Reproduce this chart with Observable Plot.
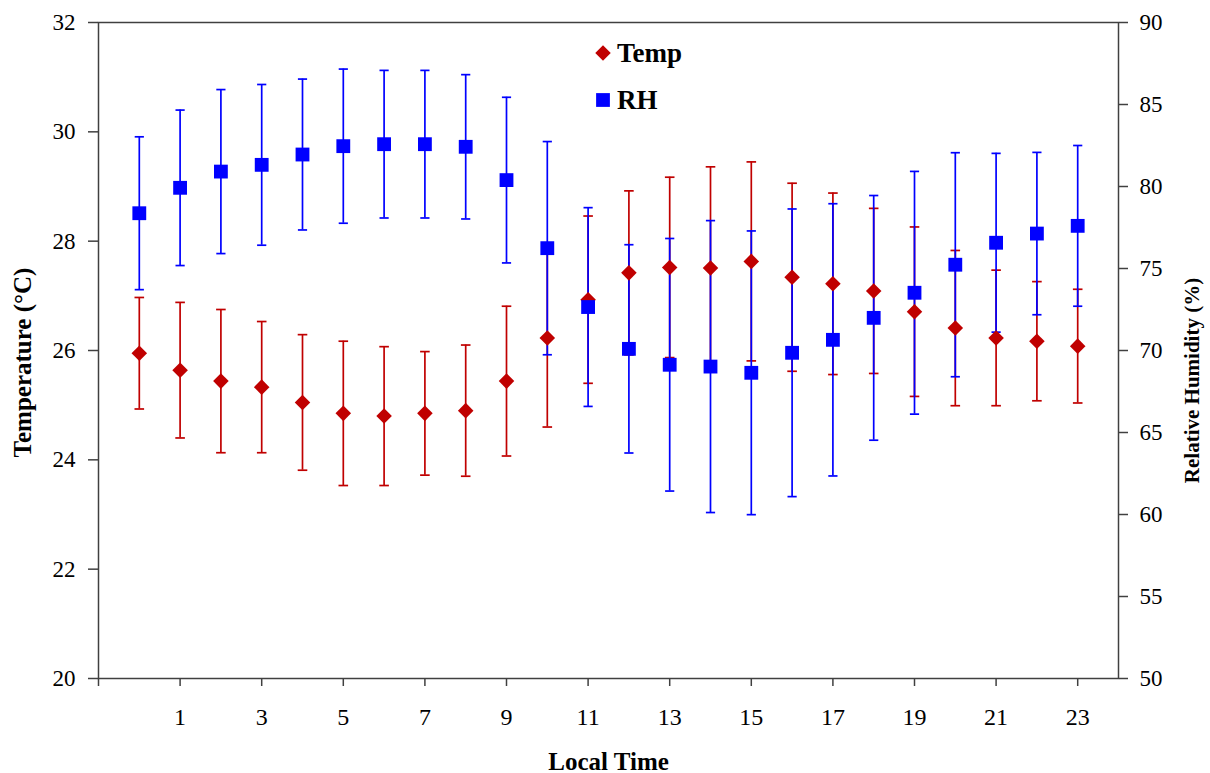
<!DOCTYPE html>
<html>
<head>
<meta charset="utf-8">
<script src="https://cdn.jsdelivr.net/npm/d3@7"></script>
<script src="https://cdn.jsdelivr.net/npm/@observablehq/plot@0.6"></script>
<style>
  html, body { margin: 0; padding: 0; background: #fff; }
  #wrap { position: relative; width: 1210px; height: 773px; }
  #legend { position: absolute; left: 0; top: 0; pointer-events: none; }
</style>
</head>
<body>
<div id="wrap"></div>
<script>
// ---- data ----
const hours = [0,1,2,3,4,5,6,7,8,9,10,11,12,13,14,15,16,17,18,19,20,21,22,23];
const tempMean = [25.95,25.64,25.44,25.33,25.05,24.85,24.80,24.85,24.90,25.44,26.23,26.93,27.42,27.52,27.51,27.63,27.34,27.22,27.09,26.71,26.41,26.23,26.17,26.08];
const tempSD   = [1.02,1.24,1.31,1.20,1.24,1.32,1.27,1.13,1.20,1.37,1.63,1.53,1.50,1.65,1.85,1.82,1.72,1.66,1.51,1.55,1.42,1.24,1.09,1.04];
const rhMean   = [78.37,79.92,80.91,81.32,81.95,82.46,82.58,82.58,82.42,80.39,76.24,72.65,70.10,69.13,69.02,68.64,69.86,70.65,71.99,73.52,75.23,76.57,77.13,77.60];
const rhSD     = [4.66,4.74,5.00,4.90,4.60,4.70,4.50,4.50,4.40,5.05,6.50,6.06,6.35,7.70,8.90,8.65,8.77,8.30,7.46,7.40,6.83,5.45,4.95,4.90];
const xTicks = [-1,1,3,5,7,9,11,13,15,17,19,21,23];
const tempTicks = [20,22,24,26,28,30,32];
const rhTicks = [50,55,60,65,70,75,80,85,90];
const seriesNames = ["Temp", "RH"];
const tempDomain = [20, 32];
const rhDomain = [50, 90];

// map RH onto the temperature scale (secondary axis)
const toT = rh => tempDomain[0] + (rh - rhDomain[0]) * (tempDomain[1] - tempDomain[0]) / (rhDomain[1] - rhDomain[0]);
const fromT = t => rhDomain[0] + (t - tempDomain[0]) * (rhDomain[1] - rhDomain[0]) / (tempDomain[1] - tempDomain[0]);

const rows = hours.map((h, i) => ({
  hour: h,
  t: tempMean[i], tLo: tempMean[i] - tempSD[i], tHi: tempMean[i] + tempSD[i],
  r: toT(rhMean[i]), rLo: toT(rhMean[i] - rhSD[i]), rHi: toT(rhMean[i] + rhSD[i])
}));

const RED = "#C00000", BLUE = "#0000FF", AXIS = "#404040";
const cap = { draw(ctx, size) { const w = Math.sqrt(size / Math.PI); ctx.moveTo(-w, 0); ctx.lineTo(w, 0); } };
const serif = "'Liberation Serif', 'Times New Roman', serif";

const chart = Plot.plot({
  width: 1210, height: 773,
  marginTop: 22, marginRight: 92, marginBottom: 95, marginLeft: 98,
  style: { fontFamily: serif, color: "black", background: "white", overflow: "visible" },
  x: { domain: [-1, 24], label: null },
  y: { domain: tempDomain, label: null },
  marks: [
    Plot.axisX(xTicks, { tickSize: 8, tickPadding: 21, fontSize: 24, stroke: AXIS, strokeWidth: 1.5,
      tickFormat: d => d < 0 ? "" : String(d), label: null }),
    Plot.axisY(tempTicks, { anchor: "left", tickSize: 10, tickPadding: 13, fontSize: 23, stroke: AXIS, strokeWidth: 1.5,
      tickFormat: d => String(d), label: null }),
    Plot.axisY(rhTicks.map(toT), { anchor: "right", tickSize: 9, tickPadding: 12, fontSize: 23, stroke: AXIS, strokeWidth: 1.5,
      tickFormat: t => String(Math.round(fromT(t))), label: null }),
    Plot.frame({ stroke: AXIS, strokeWidth: 1.5 }),
    // Temp error bars
    Plot.ruleX(rows, { x: "hour", y1: "tLo", y2: "tHi", stroke: RED, strokeWidth: 1.7 }),
    Plot.dot(rows, { x: "hour", y: "tLo", symbol: cap, r: 4.8, stroke: RED, strokeWidth: 1.7, fill: "none" }),
    Plot.dot(rows, { x: "hour", y: "tHi", symbol: cap, r: 4.8, stroke: RED, strokeWidth: 1.7, fill: "none" }),
    // RH error bars
    Plot.ruleX(rows, { x: "hour", y1: "rLo", y2: "rHi", stroke: BLUE, strokeWidth: 1.7 }),
    Plot.dot(rows, { x: "hour", y: "rLo", symbol: cap, r: 4.6, stroke: BLUE, strokeWidth: 1.7, fill: "none" }),
    Plot.dot(rows, { x: "hour", y: "rHi", symbol: cap, r: 4.6, stroke: BLUE, strokeWidth: 1.7, fill: "none" }),
    // markers
    Plot.dot(rows, { x: "hour", y: "t", symbol: "diamond2", r: 7, fill: RED }),
    Plot.dot(rows, { x: "hour", y: "r", symbol: "square", r: 7.8, fill: BLUE }),
    // axis titles
    Plot.text(["Local Time"], { text: d => d, frameAnchor: "bottom", dy: 91, fontSize: 25, fontWeight: "bold", fill: "black" }),
    Plot.text(["Temperature (\u00B0C)"], { text: d => d, frameAnchor: "left", textAnchor: "middle", dx: -76, dy: 12, rotate: -90, fontSize: 25, fontWeight: "bold", fill: "black" }),
    Plot.text(["Relative Humidity (%)"], { text: d => d, frameAnchor: "right", textAnchor: "middle", dx: 74, dy: 30, rotate: -90, fontSize: 21, fontWeight: "bold", fill: "black" })
  ]
});

const wrap = document.getElementById("wrap");
wrap.appendChild(chart);

// legend (inside the plot area, like the reference)
const lg = d3.select(wrap).append("svg").attr("id", "legend").attr("width", 1210).attr("height", 773);
const items = [
  { name: seriesNames[0], color: RED, shape: d3.symbolDiamond2, size: Math.PI * 49, cy: 53 },
  { name: seriesNames[1], color: BLUE, shape: d3.symbolSquare, size: 190, cy: 100 }
];
items.forEach(it => {
  lg.append("path").attr("d", d3.symbol(it.shape, it.size)()).attr("transform", `translate(603,${it.cy})`).attr("fill", it.color);
  lg.append("text").attr("x", 617).attr("y", it.cy + 9).attr("font-family", serif).attr("font-weight", "bold")
    .attr("font-size", 27).attr("fill", "black").text(it.name);
});
</script>
</body>
</html>
